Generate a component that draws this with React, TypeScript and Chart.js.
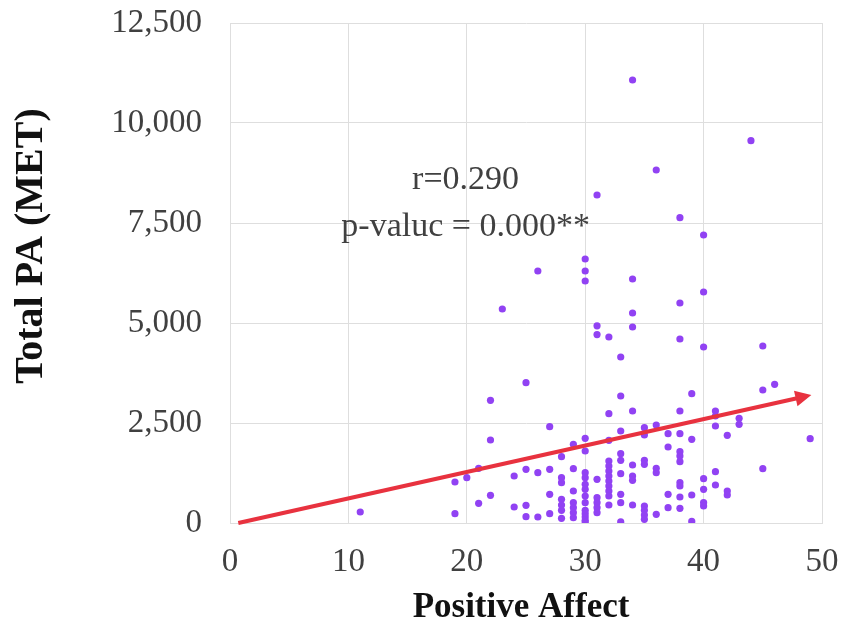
import { useEffect, useRef } from "react";
import { Chart, registerables } from "chart.js";

Chart.register(...registerables);

// Positive Affect score of each respondent (x) and Total PA in MET-minutes (y)
const positiveAffect: number[] = [
  11,
  19, 19,
  20,
  21, 21,
  22, 22, 22,
  23,
  24, 24,
  25, 25, 25, 25,
  26, 26, 26,
  27, 27, 27, 27,
  28, 28, 28, 28, 28, 28, 28,
  29, 29, 29, 29, 29, 29, 29,
  30, 30, 30, 30, 30, 30, 30, 30, 30, 30, 30, 30, 30, 30, 30, 30,
  31, 31, 31, 31, 31, 31, 31, 31,
  32, 32, 32, 32, 32, 32, 32, 32, 32, 32, 32, 32,
  33, 33, 33, 33, 33, 33, 33, 33, 33,
  34, 34, 34, 34, 34, 34, 34, 34, 34,
  35, 35, 35, 35, 35, 35, 35, 35,
  36, 36, 36, 36, 36,
  37, 37, 37, 37,
  38, 38, 38, 38, 38, 38, 38, 38, 38, 38, 38, 38,
  39, 39, 39, 39,
  40, 40, 40, 40, 40, 40, 40,
  41, 41, 41, 41, 41,
  42, 42, 42,
  43, 43,
  44,
  45, 45, 45,
  46,
  49,
];

const totalPA: number[] = [
  275,
  1025, 233,
  1133,
  1367, 492,
  3067, 2075, 692,
  5350,
  1175, 400,
  3508, 1342, 442, 158,
  6300, 1258, 150,
  2408, 1342, 717, 233,
  1658, 1133, 1008, 592, 450, 317, 117,
  1967, 1358, 800, 508, 383, 258, 133,
  6600, 6300, 6050, 2117, 1800, 1258, 1133, 967, 842, 675, 508, 317, 233, 150, 67, 20,
  8200, 4930, 4710, 1092, 633, 508, 383, 258,
  4650, 2733, 2067, 1550, 1425, 1300, 1175, 1050, 925, 800, 675, 450,
  4150, 3175, 2300, 1733, 1567, 1233, 717, 508, 30,
  11075, 6100, 5250, 4900, 2800, 1450, 1175, 1067, 450,
  2383, 2200, 1567, 1467, 425, 317, 200, 92,
  8825, 2450, 1367, 1258, 217,
  2233, 1900, 717, 383,
  7633, 5500, 4600, 2800, 2233, 1783, 1675, 1533, 1008, 925, 650, 367,
  3233, 2092, 700, 40,
  7200, 5775, 4400, 1108, 842, 508, 425,
  2800, 2675, 2425, 1283, 950,
  2192, 800, 700,
  2617, 2467,
  9558,
  4425, 3325, 1358,
  3467,
  2108,
];

// Trend arrow: start and tip in data units
const trendX: number[] = [0.7, 49.1];
const trendY: number[] = [0, 3200];

// Axis ticks
const xTickValues: number[] = [0, 10, 20, 30, 40, 50];
const yTickValues: number[] = [0, 2500, 5000, 7500, 10000, 12500];

// Axis titles and correlation note
const xTitle = "Positive Affect";
const yTitle = "Total PA (MET)";
const noteLines: string[] = ["r=0.290", "p-valuc = 0.000**"];
const noteX = 19.9;
const noteY: number[] = [8350, 7175];

const SERIF = "'Liberation Serif', 'Times New Roman', serif";
const POINT_COLOR = "#9142f3";
const ARROW_COLOR = "#e8323f";
const GRID_COLOR = "#dedede";
const TEXT_COLOR = "#404040";

const overlayPlugin = {
  id: "overlay",
  afterDatasetsDraw(chart: any) {
    const { ctx } = chart;
    const xs = chart.scales.x;
    const ys = chart.scales.y;
    const x0 = xs.getPixelForValue(trendX[0]);
    const y0 = ys.getPixelForValue(trendY[0]);
    const x1 = xs.getPixelForValue(trendX[1]);
    const y1 = ys.getPixelForValue(trendY[1]);
    const ang = Math.atan2(y1 - y0, x1 - x0);
    const cos = Math.cos(ang);
    const sin = Math.sin(ang);
    const headLen = 16;
    const headHalf = 8;
    ctx.save();
    ctx.strokeStyle = ARROW_COLOR;
    ctx.fillStyle = ARROW_COLOR;
    ctx.lineWidth = 4;
    ctx.lineCap = "butt";
    ctx.beginPath();
    ctx.moveTo(x0, y0);
    ctx.lineTo(x1 - headLen * 0.7 * cos, y1 - headLen * 0.7 * sin);
    ctx.stroke();
    const bx = x1 - headLen * cos;
    const by = y1 - headLen * sin;
    ctx.beginPath();
    ctx.moveTo(x1, y1);
    ctx.lineTo(bx + headHalf * sin, by - headHalf * cos);
    ctx.lineTo(bx - headHalf * sin, by + headHalf * cos);
    ctx.closePath();
    ctx.fill();
    ctx.restore();
  },
  afterDraw(chart: any) {
    const { ctx } = chart;
    const xs = chart.scales.x;
    const ys = chart.scales.y;
    ctx.save();
    // correlation note
    ctx.fillStyle = TEXT_COLOR;
    ctx.font = `34px ${SERIF}`;
    ctx.textAlign = "center";
    ctx.textBaseline = "alphabetic";
    const nx = xs.getPixelForValue(noteX);
    noteLines.forEach((line, i) => {
      ctx.fillText(line, nx, ys.getPixelForValue(noteY[i]));
    });
    // axis titles
    ctx.fillStyle = "#111111";
    ctx.font = `bold 35px ${SERIF}`;
    ctx.textAlign = "center";
    ctx.textBaseline = "alphabetic";
    ctx.fillText(xTitle, 521, 617);
    ctx.translate(32, 246);
    ctx.rotate(-Math.PI / 2);
    ctx.font = `bold 40px ${SERIF}`;
    ctx.textBaseline = "middle";
    ctx.fillText(yTitle, 0, 0);
    ctx.restore();
  },
};

export default function App() {
  const canvasRef = useRef<HTMLCanvasElement | null>(null);

  useEffect(() => {
    const canvas = canvasRef.current;
    if (!canvas) return;
    const points = positiveAffect.map((v, i) => ({ x: v, y: totalPA[i] }));
    const chart = new Chart(canvas, {
      type: "scatter",
      data: {
        datasets: [
          {
            label: "Total PA",
            data: points,
            backgroundColor: POINT_COLOR,
            borderWidth: 0,
            pointRadius: 3.6,
            pointHoverRadius: 3.6,
          },
        ],
      },
      options: {
        responsive: false,
        animation: false,
        events: [],
        layout: { padding: { top: 23, right: 23, left: 0, bottom: 0 } },
        plugins: {
          legend: { display: false },
          tooltip: { enabled: false },
          title: { display: false },
        },
        scales: {
          x: {
            type: "linear",
            min: 0,
            max: 50,
            afterBuildTicks: (s: any) => {
              s.ticks = xTickValues.map((v) => ({ value: v }));
            },
            afterFit: (s: any) => {
              s.height = 103;
              s.paddingLeft = 0;
              s.paddingRight = 0;
              s.paddingTop = 0;
              s.paddingBottom = 0;
            },
            grid: { color: GRID_COLOR, lineWidth: 1, drawTicks: false },
            border: { color: GRID_COLOR },
            ticks: {
              padding: 20,
              color: TEXT_COLOR,
              font: { family: SERIF, size: 33 },
              maxRotation: 0,
              autoSkip: false,
            },
          },
          y: {
            type: "linear",
            min: 0,
            max: 12500,
            afterBuildTicks: (s: any) => {
              s.ticks = yTickValues.map((v) => ({ value: v }));
            },
            afterFit: (s: any) => {
              s.width = 230;
              s.paddingLeft = 0;
              s.paddingRight = 0;
              s.paddingTop = 0;
              s.paddingBottom = 0;
            },
            grid: { color: GRID_COLOR, lineWidth: 1, drawTicks: false },
            border: { color: GRID_COLOR },
            ticks: {
              padding: 28,
              color: TEXT_COLOR,
              font: { family: SERIF, size: 33 },
              autoSkip: false,
              callback: (v: any) => Number(v).toLocaleString("en-US"),
            },
          },
        },
      },
      plugins: [overlayPlugin],
    });
    return () => chart.destroy();
  }, []);

  return (
    <div style={{ position: "fixed", left: 0, top: 0, width: 845, height: 626, background: "#ffffff" }}>
      <canvas ref={canvasRef} width={845} height={626} style={{ display: "block" }} />
    </div>
  );
}
